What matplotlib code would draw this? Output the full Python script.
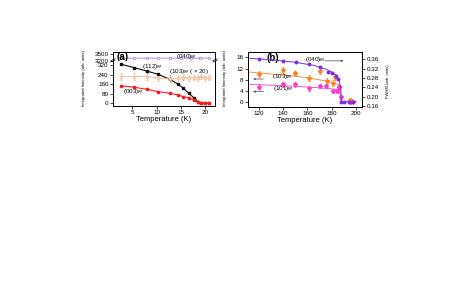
import matplotlib
matplotlib.use("Agg")
import matplotlib.pyplot as plt

plt.rcParams['font.family'] = ['Liberation Sans', 'DejaVu Sans']

# ---------------- Panel (a) data ----------------
T_a = [2.7, 5.3, 7.9, 10.3, 12.7, 14.4, 15.5, 16.6, 17.6, 18.5, 19.2, 19.9, 20.8]
I_112 = [326, 298, 270, 242, 200, 159, 125, 84, 47, 13, 0, 0, 0]
I_003 = [147, 134, 117, 97, 84, 69, 55, 42, 28, 8, 0, 0, 0]
I_103 = [222, 222, 222, 212, 205, 210, 215, 210, 215, 210, 222, 210, 215]
E_103 = [28, 28, 28, 28, 28, 20, 20, 20, 20, 20, 20, 20, 20]
T_040a = [2.7, 5.3, 7.9, 10.3, 12.7, 15.0, 17.0, 19.0, 20.8]
I_040a = [3315, 3310, 3318, 3312, 3316, 3310, 3315, 3312, 3318]

# ---------------- Panel (b) data ----------------
T_b040 = [120, 140, 151, 161, 170, 177, 180, 183.5, 185.5, 187.5, 190.2, 194.4, 198]
W_040 = [0.361, 0.354, 0.347, 0.340, 0.326, 0.307, 0.300, 0.290, 0.276, 0.178, 0.177, 0.177, 0.177]
T_fit040 = [112, 130, 150, 165, 175, 180, 184, 186, 187.5, 188, 200]
W_fit040 = [0.364, 0.358, 0.347, 0.334, 0.318, 0.306, 0.290, 0.272, 0.240, 0.178, 0.178]

T_b103 = [120, 140, 150, 161, 170.5, 176, 181, 183, 186, 195.5, 197]
I_b103 = [10.0, 11.5, 10.3, 8.6, 11.2, 7.6, 6.8, 9.1, 5.6, 0.8, 0.3]
E_b103 = [1.0, 1.1, 1.0, 1.0, 1.2, 1.0, 1.0, 1.0, 1.0, 0.6, 0.5]
T_fit103 = [112, 130, 150, 165, 175, 182, 186, 187.5, 188, 200]
I_fit103 = [10.8, 10.1, 9.3, 8.4, 7.6, 6.9, 6.3, 3.0, 0.3, 0.3]

T_b101 = [120, 140, 150, 161, 170.5, 175.5, 181, 184, 186, 188, 195, 197]
I_b101 = [5.6, 6.4, 6.4, 5.0, 5.8, 5.8, 4.0, 4.0, 5.5, 2.0, 0.2, 0.2]
E_b101 = [0.8, 0.8, 0.8, 0.8, 0.8, 0.8, 0.8, 0.8, 0.8, 0.6, 0.4, 0.4]
T_fit101 = [112, 130, 150, 165, 175, 182, 186, 187.5, 188, 200]
I_fit101 = [6.4, 6.1, 5.7, 5.3, 5.0, 4.7, 4.5, 2.0, 0.2, 0.2]

xt_a = [5, 10, 15, 20]
yt_a_low = [0, 80, 160, 240, 320]
yt_a_high = [3200, 3500]
xt_b = [120, 140, 160, 180, 200]
yt_b = [0, 4, 8, 12, 16]
yt_b_r = [0.16, 0.20, 0.24, 0.28, 0.32, 0.36]

C_BLACK = '#111111'
C_RED = '#ff1a1a'
C_ORA_A = '#f6a87a'
C_PUR_A = '#9f7cf0'
C_PUR_B = '#7b2ee6'
C_ORA_B = '#ff7f1e'
C_MAG_B = '#ff3ad0'

TFS = 4.5
LFS = 5.5
MS = 1.8
fig = plt.figure(figsize=(4.63, 2.89), dpi=100)

def style(ax):
    ax.tick_params(direction='out', length=2, width=0.5, labelsize=TFS, pad=1.2)
    for s in ax.spines.values():
        s.set_linewidth(0.7)

# Panel (a): broken axis
axa_t = fig.add_axes([0.2441, 0.7872, 0.2203, 0.0329])
axa_b = fig.add_axes([0.2441, 0.6332, 0.2203, 0.1540])
for ax in (axa_t, axa_b):
    style(ax)
    ax.set_xlim(1.0, 22.0)
axa_t.spines['bottom'].set_visible(False)
axa_b.spines['top'].set_visible(False)
axa_t.set_xticks([])
axa_t.set_ylim(3164, 3590)
axa_t.set_yticks(yt_a_high)
axa_b.set_ylim(-23, 349)
axa_b.set_yticks(yt_a_low)
axa_b.set_xticks(xt_a)

axa_t.plot(T_040a, I_040a, '-o', color=C_PUR_A, lw=0.6, ms=MS, mfc='white', mew=0.5)
axa_b.errorbar(T_a, I_103, yerr=E_103, fmt='-o', color=C_ORA_A, lw=0.6, ms=MS,
               mfc='white', mew=0.5, elinewidth=0.5, capsize=1.0, capthick=0.5)
axa_b.plot(T_a, I_112, '-s', color=C_BLACK, lw=0.8, ms=MS)
axa_b.plot(T_a, I_003, '-s', color=C_RED, lw=0.8, ms=MS)

# break marks
for x0 in (0.0, 1.0):
    for dy in (0.0, 0.03):
        axa_b.plot([x0 - 0.02, x0 + 0.02], [0.99 + dy, 1.03 + dy], transform=axa_b.transAxes,
                   color='k', lw=0.5, clip_on=False)

axa_t.text(0.03, 0.5, '(a)', transform=axa_t.transAxes, fontsize=7, fontweight='bold', va='center')
axa_t.text(0.62, 0.55, '(040)$_M$', transform=axa_t.transAxes, fontsize=4.5, va='center')
axa_b.text(7.0, 306, '(112)$_M$', fontsize=4.5, va='center')
axa_b.text(12.5, 268, '(103)$_M$ ( × 20)', fontsize=4.5, va='center')
axa_b.text(3.0, 97, '(003)$_M$', fontsize=4.5, va='center')
axa_b.set_xlabel('Temperature (K)', fontsize=LFS, labelpad=0.5)
fig.text(84 / 463, 1 - 78 / 289, 'Integrated Intensity (arb. units)', rotation=90,
         fontsize=3.0, ha='center', va='center', family=['Liberation Sans Narrow', 'Liberation Sans'])

# Panel (b)
axb = fig.add_axes([0.5356, 0.6298, 0.2462, 0.1903])
style(axb)
axb.set_xlim(111, 205)
axb.set_ylim(-1.68, 17.96)
axb.set_xticks(xt_b)
axb.set_yticks(yt_b)
axr = axb.twinx()
style(axr)
axr.set_ylim(0.156, 0.391)
axr.set_yticks(yt_b_r)
axr.set_yticklabels(['%.2f' % v for v in yt_b_r])

axb.plot(T_fit103, I_fit103, '-', color=C_ORA_B, lw=0.6)
axb.plot(T_fit101, I_fit101, '-', color=C_MAG_B, lw=0.6)
axb.errorbar(T_b103, I_b103, yerr=E_b103, fmt='*', color=C_ORA_B, ms=3.0,
             elinewidth=0.5, capsize=0.8, capthick=0.5)
axb.errorbar(T_b101, I_b101, yerr=E_b101, fmt='*', color=C_MAG_B, ms=3.0,
             elinewidth=0.5, capsize=0.8, capthick=0.5)
axr.plot(T_fit040, W_fit040, '-', color=C_PUR_B, lw=0.7)
axr.plot(T_b040, W_040, 'o', color=C_PUR_B, ms=MS)

axb.text(126, 15.9, '(b)', fontsize=7, fontweight='bold', va='center')
axb.text(158, 15.4, '(040)$_M$', fontsize=4.5, va='center')
axb.annotate('', xy=(192, 14.8), xytext=(172, 14.8),
             arrowprops=dict(arrowstyle='->', lw=0.5, color='#444444', mutation_scale=3))
axb.text(131, 9.1, '(103)$_M$', fontsize=4.5, va='center')
axb.annotate('', xy=(113, 8.3), xytext=(126, 8.3),
             arrowprops=dict(arrowstyle='->', lw=0.5, color='#444444', mutation_scale=3))
axb.text(132, 4.75, '(101)$_M$', fontsize=4.5, va='center')
axb.annotate('', xy=(113, 3.8), xytext=(126, 3.8),
             arrowprops=dict(arrowstyle='->', lw=0.5, color='#444444', mutation_scale=3))
axb.set_xlabel('Temperature (K)', fontsize=LFS, labelpad=0.5)
fig.text(225 / 463, 1 - 78 / 289, 'Integrated Intensity (arb. units)', rotation=90,
         fontsize=3.0, ha='center', va='center', family=['Liberation Sans Narrow', 'Liberation Sans'])
fig.text(388 / 463, 1 - 81 / 289, 'FWHM (arb. units)', rotation=90,
         fontsize=3.0, ha='center', va='center', family=['Liberation Sans Narrow', 'Liberation Sans'])

fig.savefig('out.png', dpi=100)
